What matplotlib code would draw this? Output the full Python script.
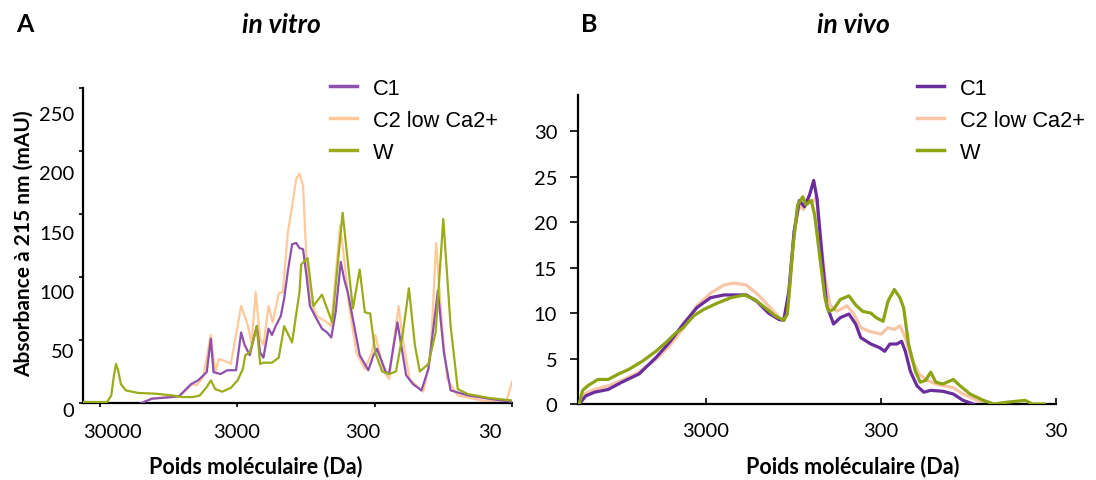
import numpy as np
import matplotlib.pyplot as plt

# ---- A : in vitro (molecular weight in Da, absorbance in mAU) ----
vitro_c1_mw = [15000, 12600, 8940, 7960, 7100, 6510, 5800, 5020, 4690, 4480, 3990, 3550,
               3070, 2820, 2660, 2440, 2170, 2050, 1940, 1780, 1680, 1580, 1450, 1370,
               1290, 1200, 1120, 1060, 998, 942, 889, 816, 727, 667, 622, 578, 530, 500,
               472, 433, 386, 334, 306, 289, 250, 236, 205, 177, 158, 137, 122, 104, 94,
               84, 62.7, 44, 30]
vitro_c1_abs = [0, 3.4, 4.7, 5.5, 11, 15, 18, 24.5, 51, 24.5, 23, 26,
                26, 56, 46, 38, 61, 40, 36, 59, 54, 61, 69, 83,
                104, 126, 127, 123, 122, 101, 77, 69, 59, 56, 52, 72, 112, 98,
                88, 67, 38, 26, 38, 43, 25, 23, 64, 22, 15, 10, 27, 89, 40,
                10, 6, 3.4, 1]

vitro_c2_mw = [15000, 12600, 10000, 7960, 7100, 6510, 5970, 5320, 4690, 4350, 4100, 3650,
               3350, 2820, 2510, 2370, 2210, 2050, 1940, 1780, 1660, 1500, 1400, 1290,
               1200, 1120, 1060, 998, 942, 889, 792, 667, 622, 578, 536, 500, 458, 408,
               354, 315, 297, 281, 257, 236, 210, 201, 188, 167, 133, 118, 107, 97, 89,
               74.5, 49.8, 33, 30]
vitro_c2_abs = [0, 3.4, 4.7, 5.5, 10, 15, 14, 20.6, 54, 24.5, 35, 33,
                31, 77, 61, 47, 88, 51, 46, 77, 64, 87, 88, 135,
                156, 178, 182, 172, 114, 83, 69, 64, 61, 101, 141, 114, 75, 40,
                27, 40, 54, 43, 25, 19, 61, 77, 51, 19, 9, 35, 127, 61, 19,
                6, 2, 1, 17]

vitro_w_mw = [40000, 30000, 26700, 24900, 23800, 23000, 22200, 21200, 19500, 15900, 11900,
              8940, 7510, 6320, 5640, 5020, 4690, 4350, 3870, 3350, 2990, 2740, 2630,
              2440, 2300, 2170, 2050, 1940, 1680, 1500, 1370, 1200, 1060, 1030, 926, 839,
              727, 612, 514, 433, 386, 354, 324, 297, 265, 236, 210, 188, 169, 153, 141,
              122, 108, 95, 84, 74.5, 62.7, 44, 30]
vitro_w_abs = [0.8, 0.8, 0.8, 6, 22, 31, 26, 15, 10, 8, 7.4,
               6, 4.7, 4.7, 6, 12.7, 18, 11, 9, 12, 18, 27, 38,
               40, 50, 61, 31, 32, 32, 36, 61, 48, 88, 110, 115, 77,
               86, 64, 151, 75, 106, 72, 71, 40, 25, 23, 25, 54, 91, 46, 25,
               31, 56, 146, 61, 11, 7, 4, 2]

# ---- B : in vivo ----
vivo_c1_mw = [15960, 14590, 13030, 10890, 9100, 7260, 5810, 4850, 4050, 3390, 2830, 2370,
              1980, 1770, 1540, 1320, 1150, 1080, 1010, 942, 879, 822, 769, 728, 697,
              656, 614, 561, 513, 458, 419, 392, 343, 306, 286, 267, 244, 229, 218, 204,
              187, 171, 156, 133, 116, 102, 89]
vivo_c1_abs = [0, 0.9, 1.3, 1.6, 2.4, 3.3, 5.1, 6.8, 8.8, 10.6, 11.7, 12.0,
               12.0, 12.0, 11.3, 10.0, 9.3, 9.2, 12.4, 19.0, 22.4, 21.7, 23.0, 24.6, 22.6,
               16.8, 10.9, 8.8, 9.5, 9.9, 8.8, 7.3, 6.6, 6.2, 5.8, 6.6, 6.6, 6.9, 5.8, 3.6,
               2.0, 1.3, 1.5, 1.4, 1.1, 0.4, 0]

vivo_c2_mw = [15960, 14920, 13030, 10890, 9100, 7260, 5810, 4850, 4050, 3390, 2830, 2370,
              2070, 1770, 1510, 1320, 1150, 1080, 1010, 942, 879, 834, 787, 735, 703,
              671, 628, 587, 537, 469, 429, 392, 350, 299, 274, 252, 234, 218, 200, 182,
              163, 146, 116, 102, 85, 71]
vivo_c2_abs = [0, 1.1, 1.6, 2.0, 2.6, 3.5, 4.9, 6.4, 8.4, 10.8, 12.2, 13.1,
               13.3, 13.1, 12.0, 10.8, 9.5, 9.2, 11.3, 19.0, 21.9, 21.4, 22.3, 22.3, 22.8,
               19.0, 13.9, 10.9, 10.2, 10.8, 9.9, 8.4, 8.0, 7.7, 8.4, 8.2, 8.6, 7.3, 4.9, 3.3,
               2.6, 2.2, 1.8, 1.1, 0.4, 0]

vivo_w_mw = [15960, 15240, 14260, 12470, 10890, 9510, 8320, 6950, 5810, 5070, 4540, 4050,
             3540, 3100, 2590, 2160, 1810, 1580, 1380, 1210, 1080, 1030, 962, 900, 841,
             804, 752, 719, 671, 628, 600, 561, 513, 458, 419, 383, 343, 320, 292, 274,
             252, 234, 223, 209, 191, 179, 167, 156, 146, 133, 116, 106, 93, 78, 68, 57,
             45, 41, 35]
vivo_w_abs = [0, 1.5, 2.0, 2.7, 2.7, 3.3, 3.8, 4.7, 5.8, 6.8, 7.7, 8.4,
              9.7, 10.4, 11.1, 11.7, 12.0, 11.5, 10.6, 9.7, 9.2, 9.9, 16.8, 21.9, 22.8,
              21.9, 22.4, 20.8, 16.1, 11.7, 10.2, 10.4, 11.5, 11.9, 10.9, 10.2, 10.0, 9.5, 9.1, 11.3,
              12.6, 11.7, 10.6, 6.6, 3.6, 2.4, 2.6, 3.5, 2.4, 2.2, 2.7, 2.0, 1.1, 0.4, 0, 0.2,
              0.4, 0, 0]

series_names = ["C1", "C2 low Ca2+", "W"]
vitro_ticks = [0, 50, 100, 150, 200, 250]
vivo_ticks = [0, 5, 10, 15, 20, 25, 30]
mw_ticks_a = [30000, 3000, 300, 30]
mw_ticks_b = [3000, 300, 30]

col_a = ['#8f50ad', '#ffc99c', '#9aab1c']
col_b = ['#6b2c9e', '#f7c6a6', '#8ea314']

tick_font = 'Lato'
tick_size = 14.5
W, H = 1096, 481
fig = plt.figure(figsize=(W / 100, H / 100), dpi=100)

# ---------------- panel A ----------------
ax1 = fig.add_axes([83 / W, 1 - 404 / H, 429 / W, 315 / H])
ax1.plot(vitro_c1_mw, vitro_c1_abs, color=col_a[0], lw=1.6, zorder=3, label=series_names[0])
ax1.plot(vitro_c2_mw, vitro_c2_abs, color=col_a[1], lw=1.6, zorder=2, label=series_names[1])
ax1.plot(vitro_w_mw, vitro_w_abs, color=col_a[2], lw=1.6, zorder=4, label=series_names[2])
ax1.set_xscale('log')
ax1.set_xlim(40000, 30)
ax1.set_ylim(0, 250)
ax1.set_xticks(mw_ticks_a)
ax1.minorticks_off()
ax1.set_yticks(vitro_ticks)
ax1.tick_params(axis='both', labelbottom=False, labelleft=False, length=3, width=1.2,
                direction='out')

# tick labels of panel A sit on a slightly compressed grid, as in the source figure
for v in vitro_ticks:
    ax1.text(-0.02, -0.024 + 0.003755 * v, str(v), transform=ax1.transAxes,
             ha='right', va='center', fontsize=tick_size, family=tick_font)
for lab, fx in zip(mw_ticks_a, [0.0676, 0.359, 0.653, 0.949]):
    ax1.text(fx, -0.092, str(lab), transform=ax1.transAxes, ha='center', va='center',
             fontsize=tick_size, family=tick_font)

# ---------------- panel B ----------------
ax2 = fig.add_axes([578 / W, 1 - 405 / H, 478 / W, 309 / H])
ax2.plot(vivo_c2_mw, vivo_c2_abs, color=col_b[1], lw=2.3, zorder=2, label=series_names[1])
ax2.plot(vivo_c1_mw, vivo_c1_abs, color=col_b[0], lw=2.3, zorder=3, label=series_names[0])
ax2.plot(vivo_w_mw, vivo_w_abs, color=col_b[2], lw=2.3, zorder=4, label=series_names[2])
ax2.set_xscale('log')
ax2.set_xlim(16200, 30)
ax2.set_ylim(0, 34)
ax2.set_xticks(mw_ticks_b)
ax2.set_xticklabels([str(t) for t in mw_ticks_b])
ax2.minorticks_off()
ax2.set_yticks(vivo_ticks)
ax2.tick_params(axis='x', direction='in', length=4, width=1.2, pad=13)
ax2.tick_params(axis='y', direction='out', length=6, width=1.2, pad=9)
for lab in ax2.get_xticklabels() + ax2.get_yticklabels():
    lab.set_fontsize(tick_size)
    lab.set_family(tick_font)

for ax in (ax1, ax2):
    for s in ('top', 'right'):
        ax.spines[s].set_visible(False)
    for s in ('left', 'bottom'):
        ax.spines[s].set_linewidth(1.6)
    ax.patch.set_alpha(0)

# legends
h1, l1 = ax1.get_legend_handles_labels()
h2, l2 = ax2.get_legend_handles_labels()
h2 = [h2[l2.index(n)] for n in series_names]
for ax, hs, x0 in [(ax1, h1, 330), (ax2, h2, 917)]:
    leg = ax.legend(hs, series_names, loc='upper left',
                    bbox_to_anchor=(x0 / W, 1 - 79 / H), bbox_transform=fig.transFigure,
                    frameon=False, borderpad=0, borderaxespad=0, handlelength=1.25,
                    handletextpad=0.72, labelspacing=0.5,
                    prop={'family': 'Liberation Sans', 'size': 15.7})
    for ln in leg.get_lines():
        ln.set_linewidth(2.5)

# axis labels and titles
lab_kw = dict(fontweight='bold', family=tick_font, ha='center', va='center')
fig.text(24 / W, 1 - 244 / H, 'Absorbance à 215 nm (mAU)', rotation=90, fontsize=15, **lab_kw)
fig.text(256 / W, 1 - 467 / H, 'Poids moléculaire (Da)', fontsize=15.5, **lab_kw)
fig.text(853 / W, 1 - 467 / H, 'Poids moléculaire (Da)', fontsize=15.5, **lab_kw)

ttl_kw = dict(fontweight='bold', family=tick_font, va='center')
fig.text(16 / W, 1 - 25 / H, 'A', ha='left', fontsize=18, **ttl_kw)
fig.text(581 / W, 1 - 25 / H, 'B', ha='left', fontsize=18, **ttl_kw)
fig.text(281 / W, 1 - 25 / H, 'in vitro', ha='center', style='italic', fontsize=19, **ttl_kw)
fig.text(853 / W, 1 - 25 / H, 'in vivo', ha='center', style='italic', fontsize=19, **ttl_kw)

fig.savefig('out.png', dpi=100)
